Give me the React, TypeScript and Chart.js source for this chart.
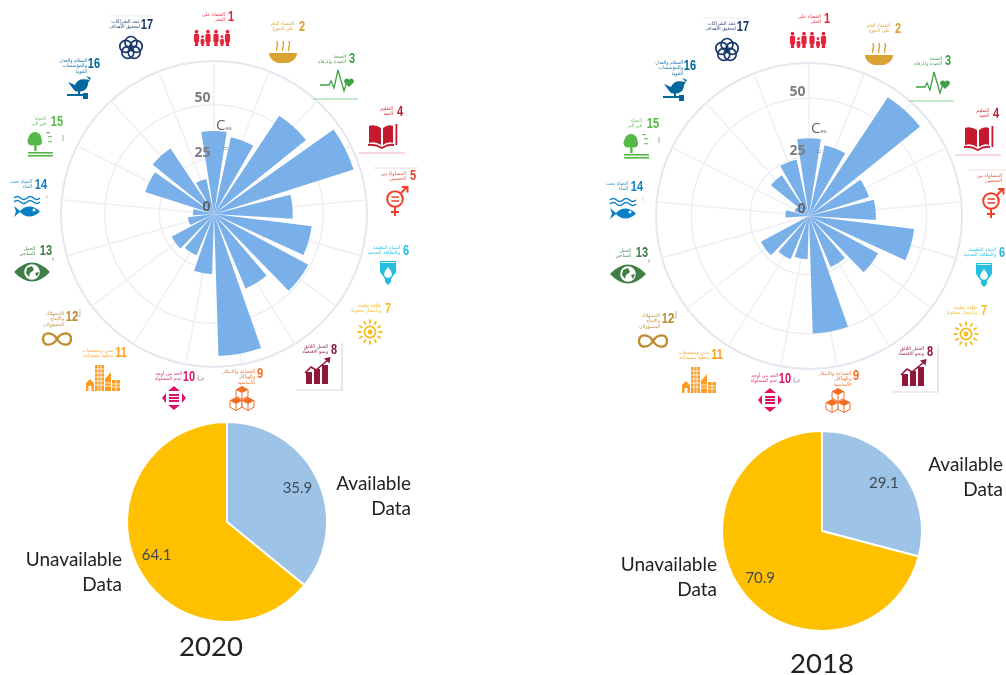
import React, { useEffect, useRef } from "react";
import { Chart, registerables } from "chart.js";

Chart.register(...registerables);

// ---------- data ----------
const goalNumbers = ["1","2","3","4","5","6","7","8","9","10","11","12","13","14","15","16","17"];
const values2020 = [38, 36, 54, 67, 36, 45, 49, 37, 65, 27.5, 20.5, 22, 12, 9.6, 33, 36, 16.4];
const values2018 = [33, 30.8, 60.6, 26.7, 28.4, 45, 33.3, 23.5, 49.9, 18.4, 20, 23.2, 0.5, 10, 6.4, 20.8, 24.5];
const scaleMax2020 = 70;
const scaleMax2018 = 65;
const pieLabels = ["Available Data", "Unavailable Data"];
const pie2020 = [35.9, 64.1];
const pie2018 = [29.1, 70.9];
const goalNames = [
  ["القضاء على", "الفقر"],
  ["القضاء التام", "على الجوع"],
  ["الصحة", "الجيدة والرفاه"],
  ["التعليم", "الجيد"],
  ["المساواة بين", "الجنسين"],
  ["المياه النظيفة", "والنظافة الصحية"],
  ["طاقة نظيفة", "وبأسعار معقولة"],
  ["العمل اللائق", "ونمو الاقتصاد"],
  ["الصناعة والابتكار", "والهياكل", "الأساسية"],
  ["الحد من أوجه", "عدم المساواة"],
  ["مدن ومجتمعات", "محلية مستدامة"],
  ["الاستهلاك", "والإنتاج", "المسؤولان"],
  ["العمل", "المناخي"],
  ["الحياة تحت", "الماء"],
  ["الحياة", "في البر"],
  ["السلام والعدل", "والمؤسسات", "القوية"],
  ["عقد الشراكات", "لتحقيق الأهداف"],
];
const goalColors = ["#E5243B","#D9A233","#3FA045","#C5192D","#F0402A","#26BDE2","#F5BC1C","#8F1838","#F36D25","#DD1367","#FD9D24","#BF8B2E","#3F7E44","#0A7FC4","#56B848","#00689D","#19386A"];

// ---------- layout ----------
const W = 1006, H = 675;
// number centre x,y | right edge of caption | first caption line y | icon centre x,y
const goalLayout = [
  [231,17, 225,15, 212,38],
  [302,27, 294,24, 283,52],
  [352,59, 346,57, 337,80],
  [400,112, 393,109, 383,135],
  [413,176, 406,174, 396,199],
  [406,251, 400,248, 388,273],
  [388,309, 381,306, 370,332],
  [334,350, 328,347, 317,372],
  [260,374, 255,372, 242,399],
  [189,377, 182,374, 174,398],
  [121,353, 113,351, 103,378],
  [72,317, 64,314, 57,339],
  [46,251, 35,249, 32,272],
  [41,185, 32,182, 27,204],
  [57,122, 46,119, 35,144],
  [94,64, 87,61, 78,88],
  [147,25, 140,22, 131,48],
];
const secondOffset = [596, 2];

const BAR_COLOR = "#79B0E9";

// ---------- plugins ----------
const barGap = {
  id: "barGap",
  afterDatasetsUpdate(chart: any) {
    const arcs = chart.getDatasetMeta(0).data;
    const step = (Math.PI * 2) / arcs.length;
    const gap = (3.6 * Math.PI) / 180;
    arcs.forEach((a: any) => {
      const s = a.startAngle - step / 2 + gap / 2;
      const e = a.endAngle - step / 2 - gap / 2;
      a.startAngle = s;
      a.endAngle = e;
      a.circumference = e - s;
    });
  },
};

const tickText = {
  id: "tickText",
  afterDraw(chart: any) {
    const r = chart.scales.r;
    const c = chart.ctx;
    c.save();
    c.font = "bold 14px 'Open Sans'";
    c.textAlign = "right";
    c.textBaseline = "middle";
    r.ticks.forEach((t: any) => {
      if (t.value % 25 !== 0) return;
      c.fillStyle = t.value === 0 ? "#5f6670" : "#7d7d7d";
      c.fillText(String(t.value), r.xCenter - 3.5, r.yCenter - r.getDistanceFromCenterForValue(t.value) - 6.5);
    });
    c.restore();
  },
};

const pieValues = {
  id: "pieValues",
  afterDraw(chart: any) {
    const c = chart.ctx;
    const ds = chart.data.datasets[0].data;
    c.save();
    c.font = "15px Lato";
    c.fillStyle = "#404a55";
    c.textAlign = "center";
    c.textBaseline = "middle";
    chart.getDatasetMeta(0).data.forEach((a: any, i: number) => {
      const mid = (a.startAngle + a.endAngle) / 2;
      c.fillText(ds[i].toFixed(1), a.x + Math.cos(mid) * a.outerRadius * 0.78, a.y + Math.sin(mid) * a.outerRadius * 0.78);
    });
    c.restore();
  },
};

// ---------- charts ----------
function RoseChart({ values, max, cx, cy, R }: { values: number[]; max: number; cx: number; cy: number; R: number }) {
  const ref = useRef<HTMLCanvasElement>(null);
  useEffect(() => {
    const chart = new Chart(ref.current as HTMLCanvasElement, {
      type: "polarArea",
      data: {
        labels: goalNumbers,
        datasets: [{ data: values, backgroundColor: BAR_COLOR, borderWidth: 0 }],
      },
      options: {
        animation: false,
        responsive: false,
        devicePixelRatio: 1,
        layout: { padding: 160 - R },
        plugins: { legend: { display: false }, tooltip: { enabled: false } },
        scales: {
          r: {
            min: 0,
            max,
            startAngle: 0,
            ticks: { display: false, stepSize: 25 },
            pointLabels: { display: false },
            grid: {
              circular: true,
              color: (c: any) => (c.tick && c.tick.value === max ? "#e5e7f0" : "#edeef3"),
              lineWidth: (c: any) => (c.tick && c.tick.value === max ? 2 : 1.4),
            },
            angleLines: { display: true, color: "#f0f1f5", lineWidth: 1.6 },
          },
        },
      },
      plugins: [barGap, tickText],
    } as any);
    return () => chart.destroy();
  }, []);
  return <canvas ref={ref} width={320} height={320} style={{ position: "absolute", left: cx - 160, top: cy - 160 }} />;
}

function PieChart({ values, cx, cy }: { values: number[]; cx: number; cy: number }) {
  const ref = useRef<HTMLCanvasElement>(null);
  useEffect(() => {
    const chart = new Chart(ref.current as HTMLCanvasElement, {
      type: "pie",
      data: {
        labels: pieLabels,
        datasets: [{ data: values, backgroundColor: ["#9DC3E6", "#FFC000"], borderColor: "#fff", borderWidth: 2 }],
      },
      options: {
        animation: false,
        responsive: false,
        devicePixelRatio: 1,
        layout: { padding: 4 },
        plugins: { legend: { display: false }, tooltip: { enabled: false } },
      },
      plugins: [pieValues],
    } as any);
    return () => chart.destroy();
  }, []);
  return <canvas ref={ref} width={210} height={210} style={{ position: "absolute", left: cx - 105, top: cy - 105 }} />;
}

// ---------- pictograms ----------
const person = (x: number, top: number, w: number, h: number, k: string) => (
  <g key={k}>
    <circle cx={x} cy={top + 1.7} r={w * 0.36} />
    <rect x={x - w / 2} y={top + 4} width={w} height={h * 0.5} rx={1} />
    <rect x={x - w * 0.32} y={top + 4 + h * 0.4} width={w * 0.64} height={h * 0.6 - 4} />
  </g>
);
const cube = (x: number, y: number, k: string) => (
  <g key={k} stroke="#fff" strokeWidth={0.7}>
    <path d={`M${x} ${y - 6.5}L${x + 6} ${y - 3.2}V${y + 3.2}L${x} ${y + 6.5}L${x - 6} ${y + 3.2}V${y - 3.2}Z`} stroke="#F36D25" strokeWidth={1} fill="#fff" />
    <path d={`M${x} ${y - 6.5}L${x + 6} ${y - 3.2}L${x} ${y}L${x - 6} ${y - 3.2}Z`} fill="#F36D25" stroke="none" />
    <path d={`M${x} ${y}V${y + 6.5}`} stroke="#F36D25" strokeWidth={1} />
  </g>
);

function pictogram(i: number, color: string) {
  switch (i) {
    case 0:
      return (
        <g fill={color}>
          {person(-15.5, -8, 5.2, 16, "a")}
          {person(-9.5, -3, 3.8, 11, "b")}
          {person(-4, -8, 5.2, 16, "c")}
          {person(4, -8, 5.2, 16, "d")}
          {person(10, -3, 3.8, 11, "e")}
          {person(15.5, -8, 5.2, 16, "f")}
        </g>
      );
    case 1:
      return (
        <g>
          <path d="M-14 1H14C14 7 8 10 5 11H-5C-8 10 -14 7 -14 1Z" fill={color} />
          <g fill="none" stroke={color} strokeWidth={1.4}>
            <path d="M-6 -1C-8 -4 -4 -6 -6 -11" />
            <path d="M0 -1C-2 -4 2 -6 0 -11" />
            <path d="M6 -1C4 -4 8 -6 6 -11" />
          </g>
        </g>
      );
    case 2:
      return (
        <g>
          <polyline points="-17,5 -8,5 -6,1 -3,8 1,-10 7,11 10,2" fill="none" stroke={color} strokeWidth={1.3} />
          <path d="M12 7L7.5 2.5A2.4 2.4 0 0 1 12 0A2.4 2.4 0 0 1 16.5 2.5Z" fill={color} />
        </g>
      );
    case 3:
      return (
        <g fill={color}>
          <path d="M-14 -9Q-8 -11 -2 -7V10Q-8 6 -14 8Z" />
          <path d="M0 -7Q5 -11 10 -9V8Q5 6 0 10Z" />
          <path d="M-15 9Q-8 8 -1 12Q5 8 11 9V11Q5 10 -1 14Q-8 10 -15 11Z" />
          <rect x={12.5} y={-11} width={1.8} height={21} />
        </g>
      );
    case 4:
      return (
        <g fill="none" stroke={color} strokeWidth={2}>
          <circle cx={-1} cy={0} r={7.8} />
          <path d="M5 -6L11 -12M6 -12H11.5V-6.5" />
          <path d="M-1 8V17M-5 13H3" />
          <path d="M-4.5 -2H3M-4.5 2H3" strokeWidth={1.6} />
        </g>
      );
    case 5:
      return (
        <g>
          <path d="M-8 -12H8V-1L3 6V9L0 12L-3 9V6L-8 -1Z" fill={color} />
          <path d="M-7 -10.5H7" stroke="#fff" strokeWidth={0.8} />
          <path d="M0 -6C-3 -2 -3.8 -0.5 -3.8 1A3.8 3.8 0 0 0 3.8 1C3.8 -0.5 3 -2 0 -6Z" fill="#fff" />
        </g>
      );
    case 6:
      return (
        <g stroke={color} strokeWidth={1.8}>
          <circle r={5.6} fill="none" />
          <circle r={2.4} fill={color} stroke="none" />
          {[0, 30, 60, 90, 120, 150, 180, 210, 240, 270, 300, 330].map((a) => (
            <line key={a} x1={0} y1={-8.5} x2={0} y2={-12.5} transform={`rotate(${a})`} />
          ))}
        </g>
      );
    case 7:
      return (
        <g fill={color}>
          <rect x={-11} y={0} width={6} height={12} />
          <rect x={-3} y={-3} width={6} height={15} />
          <rect x={5} y={-7} width={6} height={19} />
          <polyline points="-12,1 -6,-5 -1,-2 5,-7 11,-12" fill="none" stroke={color} strokeWidth={1.6} />
          <path d="M7 -13.5L13.5 -15L12.5 -8.5Z" />
        </g>
      );
    case 8:
      return (
        <g>
          {cube(0, -6, "t")}
          {cube(-6, 5, "l")}
          {cube(6, 5, "r")}
        </g>
      );
    case 9:
      return (
        <g fill={color}>
          <path d="M0 -12L6 -7H-6Z" />
          <path d="M0 12L6 7H-6Z" />
          <path d="M-12 0L-8 -5V5Z" />
          <path d="M12 0L8 -5V5Z" />
          <rect x={-5} y={-4} width={10} height={2} />
          <rect x={-5} y={-1} width={10} height={2} />
          <rect x={-5} y={2} width={10} height={2} />
        </g>
      );
    case 10:
      return (
        <g fill={color}>
          <path d="M-17 13V5L-13 1L-9 5V13H-15Z" />
          <rect x={-8} y={-13} width={9} height={26} />
          <path d="M2 13V1L8 -6V13Z" />
          <rect x={9} y={2} width={8} height={11} />
          <g stroke="#fff" strokeWidth={0.8}>
            <path d="M-8 -9H1M-8 -5H1M-8 -1H1M-8 3H1M-8 7H1M-5 -13V13M-2 -13V13" />
            <path d="M9 6H17M9 9H17M13 2V13" />
            <path d="M2 5H8M2 8H8" />
          </g>
          <rect x={-14.5} y={8} width={3} height={5} fill="#fff" />
        </g>
      );
    case 11:
      return (
        <path
          d="M0 0C-4 -7 -14 -8 -14 0C-14 8 -4 7 0 0C4 -7 14 -8 14 0C14 8 4 7 0 0"
          fill="none"
          stroke={color}
          strokeWidth={2.4}
        />
      );
    case 12:
      return (
        <g>
          <path d="M-18 0Q0 -19 18 0Q0 19 -18 0Z" fill={color} />
          <circle r={7.8} fill="#fff" />
          <path d="M-5 -4L0 -6L2 -2L-2 1L-3 5L-6 1Z M3 1L7 0L5 5Z" fill={color} />
        </g>
      );
    case 13:
      return (
        <g>
          <g fill="none" stroke={color} strokeWidth={1.4}>
            <path d="M-13 -6q3 -3 6.5 0t6.5 0t6.5 0t6.5 0" />
            <path d="M-13 -2q3 -3 6.5 0t6.5 0t6.5 0t6.5 0" />
          </g>
          <path d="M-13 2L-7 7C-3 2 6 0 13 7.5C6 15 -3 13 -7 8L-13 13L-11 7.5Z" fill={color} />
          <circle cx={7} cy={6} r={1.5} fill="#fff" />
        </g>
      );
    case 14:
      return (
        <g fill={color}>
          <circle cx={0} cy={-5.5} r={6.5} />
          <circle cx={-3} cy={-3} r={4.5} />
          <circle cx={3} cy={-2.5} r={4} />
          <rect x={-0.8} y={0} width={2.4} height={7} />
          <rect x={-7} y={8} width={25} height={1.6} />
          <rect x={-7} y={11} width={25} height={1.6} />
          <path d="M11 -11q2 -1 4 0M13 -7q2 -1 4 0M13 -2q2 -1 4 0" stroke={color} fill="none" strokeWidth={1} />
        </g>
      );
    case 15:
      return (
        <g fill={color}>
          <path d="M-10 -6L-3 -3C0 -10 6 -9 12 -8L8 -12L13 -10L10 -5C10 2 4 5 -3 3C-5 1 -7 -2 -10 -6Z" />
          <rect x={-11} y={6} width={20} height={2} />
          <rect x={0} y={2} width={2} height={5} />
          <rect x={5} y={5} width={5} height={6} />
        </g>
      );
    default:
      return (
        <g fill="none" stroke={color} strokeWidth={1.7}>
          <circle cx={0} cy={-5.5} r={6} />
          <circle cx={5.2} cy={-1.7} r={6} />
          <circle cx={3.2} cy={4.4} r={6} />
          <circle cx={-3.2} cy={4.4} r={6} />
          <circle cx={-5.2} cy={-1.7} r={6} />
        </g>
      );
  }
}

function GoalRing({ dx, dy }: { dx: number; dy: number }) {
  return (
    <>
      <svg width={W} height={H} style={{ position: "absolute", left: 0, top: 0, filter: "blur(0.35px)" }}>
        <g transform={`translate(${dx},${dy})`}>
          {goalLayout.map((g, i) => (
            <g key={i} transform={`translate(${g[4]},${g[5]})`}>
              {pictogram(i, goalColors[i])}
            </g>
          ))}
          {/* leftover frame pieces around the pasted icons */}
          <line x1={313} y1={99} x2={358} y2={99} stroke="#8fcf95" />
          <line x1={359} y1={153} x2={405} y2={153} stroke="#eeb2ba" />
          <line x1={373} y1={168} x2={419} y2={168} stroke="#f7dbd8" />
          <path d="M342 343V390H296" fill="none" stroke="#e3d5db" strokeWidth={1.2} />
          <line x1={107} y1={16} x2={152} y2={16} stroke="#eceef2" />
          <line x1={63} y1={135} x2={63} y2={141} stroke="#aaa" />
          <line x1={47} y1={195} x2={47} y2={199} stroke="#ccc" />
          <line x1={53} y1={257} x2={53} y2={261} stroke="#aaa" />
          <path d="M198 375v5h5v-3" fill="none" stroke="#aaa" />
          <path d="M77 311v5h3v-7" fill="none" stroke="#bbb" />
        </g>
      </svg>
      {goalLayout.map((g, i) => (
        <React.Fragment key={i}>
          <div
            style={{
              position: "absolute",
              left: g[0] + dx - 15,
              top: g[1] + dy - 9,
              width: 30,
              height: 18,
              lineHeight: "18px",
              textAlign: "center",
              color: goalColors[i],
              font: "bold 14.5px 'Liberation Sans Narrow','Liberation Sans',sans-serif",
              transform: "scaleX(0.76)",
            }}
          >
            {goalNumbers[i]}
          </div>
          {goalNames[i].map((line, j) => (
            <div
              key={j}
              dir="rtl"
              style={{
                position: "absolute",
                left: g[2] + dx - 70,
                top: g[3] + dy + j * 5.3 - 3,
                width: 70,
                height: 6,
                lineHeight: "6px",
                textAlign: "right",
                whiteSpace: "nowrap",
                color: goalColors[i],
                font: "4.8px 'DejaVu Sans',sans-serif",
                opacity: 0.9,
                filter: "blur(0.2px)",
              }}
            >
              {line}
            </div>
          ))}
        </React.Fragment>
      ))}
    </>
  );
}

const textBase: React.CSSProperties = {
  position: "absolute",
  fontFamily: "Lato, 'Open Sans', sans-serif",
  color: "#222",
  whiteSpace: "nowrap",
  lineHeight: "24px",
  height: 24,
};

function SideLabel({ lines, right, y, size = 19 }: { lines: string[]; right: number; y: number; size?: number }) {
  return (
    <>
      {lines.map((t, i) => (
        <div key={i} style={{ ...textBase, left: right - 160, width: 160, top: y + i * 25 - 12, textAlign: "right", fontSize: size }}>
          {t}
        </div>
      ))}
    </>
  );
}

function Title({ text, cx, cy }: { text: string; cx: number; cy: number }) {
  return (
    <div style={{ ...textBase, left: cx - 60, width: 120, top: cy - 20, height: 40, lineHeight: "40px", textAlign: "center", fontSize: 27.5 }}>
      {text}
    </div>
  );
}

export default function App() {
  return (
    <div style={{ position: "absolute", left: 0, top: 0, width: W, height: H, overflow: "hidden", background: "#fff" }}>
      <RoseChart values={values2020} max={scaleMax2020} cx={214} cy={213.5} R={153} />
      <RoseChart values={values2018} max={scaleMax2018} cx={808.7} cy={215.7} R={153.5} />
      <GoalRing dx={0} dy={0} />
      <GoalRing dx={secondOffset[0]} dy={secondOffset[1]} />
      <div style={{ position: "absolute", left: 216, top: 114, color: "#666", font: "15px 'Open Sans'" }}>
        C<span style={{ fontSize: 6 }}>es</span>
      </div>
      <div style={{ position: "absolute", left: 223, top: 141, color: "#8a8a8a", font: "10px 'Open Sans'" }}>=</div>
      <div style={{ position: "absolute", left: 811, top: 117, color: "#666", font: "15px 'Open Sans'" }}>
        C<span style={{ fontSize: 6 }}>es</span>
      </div>
      <div style={{ position: "absolute", left: 816, top: 144, color: "#8a8a8a", font: "10px 'Open Sans'" }}>=</div>
      <PieChart values={pie2020} cx={227} cy={522} />
      <PieChart values={pie2018} cx={822} cy={531} />
      <SideLabel lines={["Available", "Data"]} right={411} y={483} />
      <SideLabel lines={["Unavailable", "Data"]} right={122} y={559} />
      <SideLabel lines={["Available", "Data"]} right={1003} y={464} />
      <SideLabel lines={["Unavailable", "Data"]} right={717} y={564} />
      <Title text="2020" cx={211} cy={646} />
      <Title text="2018" cx={822} cy={663} />
    </div>
  );
}
